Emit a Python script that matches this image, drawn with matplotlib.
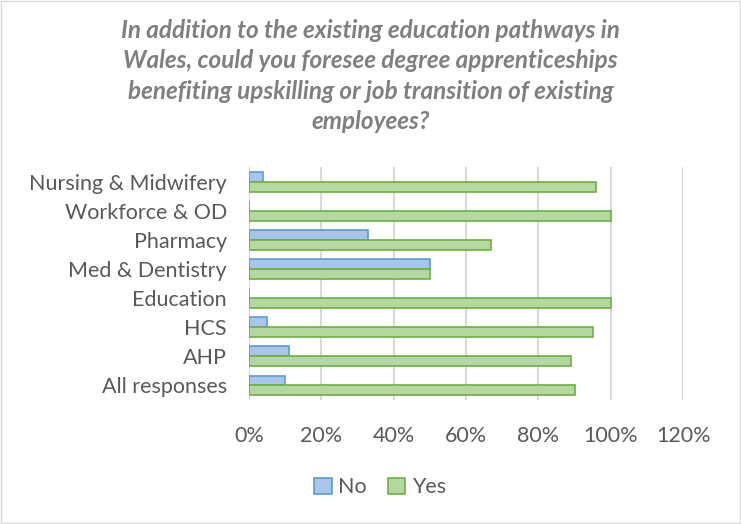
import numpy as np
import matplotlib.pyplot as plt
from matplotlib.ticker import FuncFormatter

categories = ["Nursing & Midwifery", "Workforce & OD", "Pharmacy", "Med & Dentistry",
              "Education", "HCS", "AHP", "All responses"]
no_vals = [0.04, 0.0, 0.33, 0.50, 0.0, 0.05, 0.11, 0.10]
yes_vals = [0.96, 1.00, 0.67, 0.50, 1.00, 0.95, 0.89, 0.90]

plt.rcParams['font.family'] = ['Lato', 'DejaVu Sans']

fig = plt.figure(figsize=(7.41, 5.24), dpi=100)
ax = fig.add_axes([0.336, 0.2366, 0.586, 0.4444])

y = np.arange(len(categories))
h = 0.34
ax.barh(y - h / 2, no_vals, height=h, color='#a9c5e9', edgecolor='#5b9bd5',
        linewidth=1.2, label='No', zorder=3)
ax.barh(y + h / 2, yes_vals, height=h, color='#b5d8a0', edgecolor='#70ad47',
        linewidth=1.2, label='Yes', zorder=3)

ax.set_xlim(0, 1.2)
ax.set_ylim(len(categories) - 0.5, -0.5)
ax.set_xticks(np.arange(0, 1.21, 0.2))
ax.xaxis.set_major_formatter(FuncFormatter(lambda v, p: f"{v * 100:.0f}%"))
ax.set_yticks(y)
ax.set_yticklabels(categories)
ax.tick_params(axis='both', length=0, labelsize=15.5, colors='#595959')
ax.tick_params(axis='x', pad=19)
ax.tick_params(axis='y', pad=16)
ax.grid(axis='x', color='#d9d9d9', linewidth=1.5, zorder=0)
for s in ax.spines.values():
    s.set_visible(False)

fig.text(0.5, 0.855,
         "In addition to the existing education pathways in\n"
         "Wales, could you foresee degree apprenticeships\n"
         "benefiting upskilling or job transition of existing\n"
         "employees?",
         ha='center', va='center', fontsize=17.5, fontweight='bold', style='italic',
         color='#7f7f7f', linespacing=1.38)

fig.legend(loc='center', bbox_to_anchor=(0.513, 0.07), ncol=2, frameon=False,
           fontsize=15.5, labelcolor='#595959', handlelength=0.8, handleheight=0.8,
           handletextpad=0.3, columnspacing=1.0)

fig.patches.append(plt.Rectangle((0.002, 0.002), 0.996, 0.996, transform=fig.transFigure,
                                 fill=False, edgecolor='#d9d9d9', linewidth=1))

fig.savefig('out.png', dpi=100)
